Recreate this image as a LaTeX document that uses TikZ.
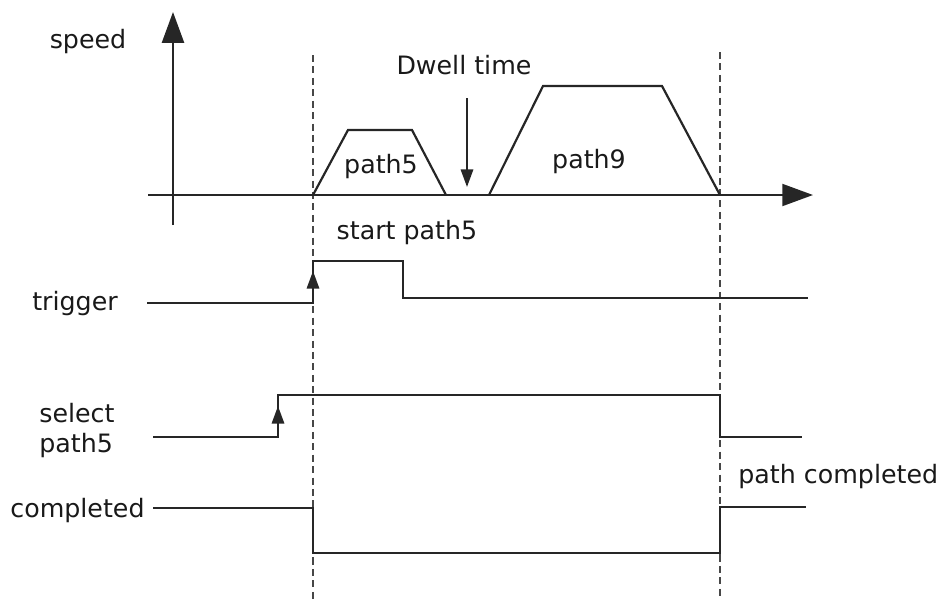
\documentclass[tikz,border=0pt]{standalone}
\usepackage{fontspec}
\setmainfont{DejaVu Sans}
\usetikzlibrary{arrows.meta}

\begin{document}
\begin{tikzpicture}[x=0.02cm, y=-0.02cm,
        wave/.style={draw=black!85, line width=1.25pt},
        guide/.style={draw=black!72, line width=1.4pt, dash pattern=on 4pt off 2.5pt},
        bigtip/.style={-{Triangle[length=17.5pt, width=12.5pt]}},
        smalltip/.style={-{Triangle[length=10pt, width=7pt]}},
        lbl/.style={font=\fontsize{14.4}{17}\selectfont, text=black!90, inner sep=0pt}]
    \useasboundingbox (0,0) rectangle (947,599);

    % dashed guides at start and end of the move
    \foreach \x/\t in {313/55, 720/52} {
        \draw[guide] (\x,\t) -- (\x,599);
    }

    % speed axes
    \coordinate (ybot) at (173,225);
    \coordinate (ytop) at (173,12);
    \coordinate (xleft) at (148,195);
    \coordinate (xright) at (813,195);
    \draw[wave, bigtip] (ybot) -- (ytop);
    \draw[wave, bigtip] (xleft) -- (xright);

    % speed profiles
    \draw[wave] (313,195) -- (348,130) -- (412,130) -- (446,195);
    \draw[wave] (489,195) -- (543,86) -- (662,86) -- (720,195);

    % labels
    \node[lbl, anchor=base] (speed) at (88,48) {speed};
    \node[lbl, anchor=base] (dwell) at (464,74) {Dwell time};
    \node[lbl, anchor=base] (pfive) at (381,173) {path5};
    \node[lbl, anchor=base] (pnine) at (589,168) {path9};
    \node[lbl, anchor=base] (start) at (407,239) {start path5};
    \node[lbl, anchor=base] (trig) at (75,310) {trigger};
    \node[lbl, anchor=base west] (sel) at (39,422) {select};
    \node[lbl, anchor=base west] (selp) at (39,452) {path5};
    \node[lbl, anchor=base west] (comp) at (10,517) {completed};
    \node[lbl, anchor=base west] (done) at (738,483) {path completed};

    % dwell marker
    \coordinate (dwelltop) at (467,98);
    \coordinate (dwellend) at (467,187);
    \draw[wave, smalltip] (dwelltop) -- (dwellend);

    % signals
    \draw[wave] (147,303) -- (313,303) -- (313,261) -- (403,261) -- (403,298) -- (808,298);
    \draw[wave, smalltip] (313,301) -- (313,271);
    \draw[wave] (153,437) -- (278,437) -- (278,395) -- (720,395) -- (720,437) -- (802,437);
    \draw[wave, smalltip] (278,432) -- (278,406);
    \draw[wave] (153,508) -- (313,508) -- (313,553) -- (720,553) -- (720,507) -- (806,507);
\end{tikzpicture}
\end{document}
